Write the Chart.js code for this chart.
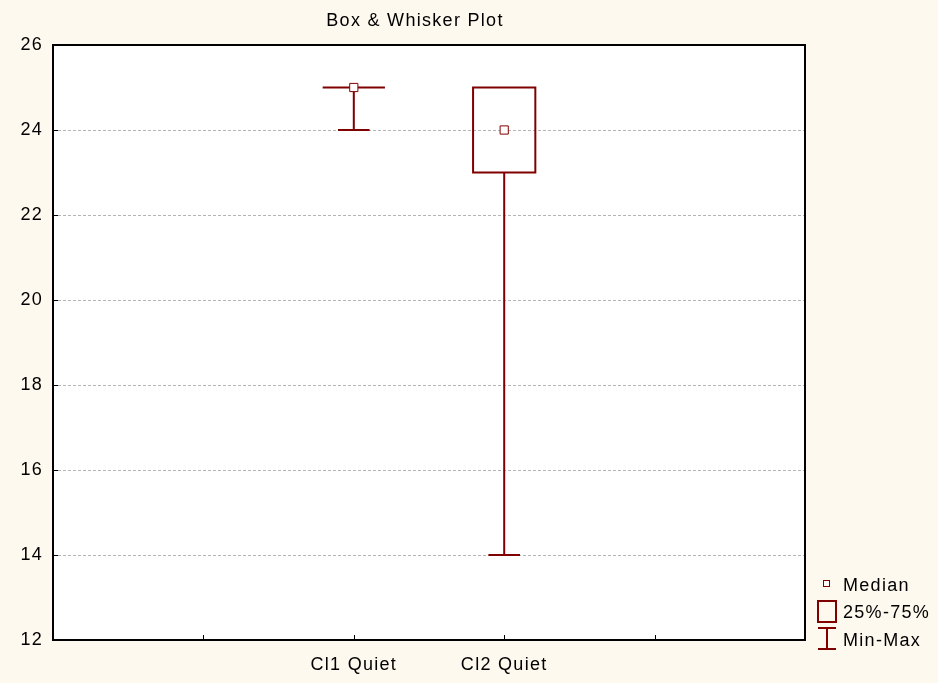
<!DOCTYPE html>
<html>
<head>
<meta charset="utf-8">
<script src="https://cdn.jsdelivr.net/npm/chart.js@4.4.1/dist/chart.umd.min.js"></script>
<style>
html, body { margin: 0; padding: 0; background: #fdf9ef; }
</style>
</head>
<body>
<canvas id="myChart" width="938" height="683"></canvas>
<script>
const categories = ['Cl1 Quiet', 'Cl2 Quiet'];
const medians = [25, 24];
const q1 = [25, 23];
const q3 = [25, 25];
const mins = [24, 14];
const maxs = [25, 25];
const yTicks = [12, 14, 16, 18, 20, 22, 24, 26];
const legendLabels = ['Median', '25%-75%', 'Min-Max'];

// x axis runs 0..5 with ticks at 1..4, categories sit on the 2nd and 3rd tick
const xPos = categories.map((c, i) => i + 2);

const RED = '#800000';
const FONT = '18px "Liberation Sans", Arial, sans-serif';
const SPACING = '1.3px';

const boxPlot = {
    id: 'boxPlot',
    beforeDraw(chart) {
        const { ctx, chartArea: a } = chart;
        ctx.save();
        ctx.fillStyle = '#fdf9ef';
        ctx.fillRect(0, 0, chart.width, chart.height);
        ctx.fillStyle = '#ffffff';
        ctx.fillRect(a.left, a.top, a.right - a.left, a.bottom - a.top);
        ctx.restore();
        ctx.letterSpacing = SPACING;
    },
    beforeDatasetsDraw(chart) {
        const { ctx, chartArea: a, scales: { x, y } } = chart;
        ctx.save();

        // frame and small inward ticks
        ctx.strokeStyle = '#000';
        ctx.lineWidth = 2;
        ctx.strokeRect(a.left, a.top, a.right - a.left, a.bottom - a.top);
        ctx.lineWidth = 1;
        ctx.beginPath();
        yTicks.forEach(v => {
            const py = Math.round(y.getPixelForValue(v)) + 0.5;
            ctx.moveTo(a.left, py);
            ctx.lineTo(a.left + 5, py);
        });
        [1, 2, 3, 4].forEach(v => {
            const px = Math.round(x.getPixelForValue(v)) + 0.5;
            ctx.moveTo(px, a.bottom);
            ctx.lineTo(px, a.bottom - 5);
        });
        ctx.stroke();

        // boxes and whiskers
        const unit = x.getPixelForValue(1) - x.getPixelForValue(0);
        const half = unit * 0.207;
        const cap = unit * 0.105;
        ctx.strokeStyle = RED;
        ctx.lineWidth = 2;
        xPos.forEach((p, i) => {
            const cx = x.getPixelForValue(p);
            const yq1 = y.getPixelForValue(q1[i]);
            const yq3 = y.getPixelForValue(q3[i]);
            const ymin = y.getPixelForValue(mins[i]);
            const ymax = y.getPixelForValue(maxs[i]);
            ctx.beginPath();
            ctx.rect(cx - half, yq3, half * 2, yq1 - yq3);
            ctx.moveTo(cx, yq1);
            ctx.lineTo(cx, ymin);
            ctx.moveTo(cx - cap, ymin);
            ctx.lineTo(cx + cap, ymin);
            ctx.moveTo(cx, yq3);
            ctx.lineTo(cx, ymax);
            ctx.moveTo(cx - cap, ymax);
            ctx.lineTo(cx + cap, ymax);
            ctx.stroke();
        });
        ctx.restore();
    },
    afterDraw(chart) {
        const { ctx, chartArea: a } = chart;
        ctx.save();
        ctx.font = FONT;
        ctx.letterSpacing = SPACING;
        ctx.fillStyle = '#000';
        ctx.textBaseline = 'alphabetic';
        ctx.textAlign = 'center';
        ctx.fillText('Box & Whisker Plot', 415, 26);

        // legend
        const lx = a.right + 13;
        const b = a.bottom;
        ctx.strokeStyle = RED;
        ctx.fillStyle = '#fff';
        ctx.lineWidth = 1;
        ctx.fillRect(lx + 5, b - 60, 7, 7);
        ctx.strokeRect(lx + 5.5, b - 59.5, 6, 6);
        ctx.lineWidth = 2;
        ctx.strokeRect(lx, b - 39, 18, 21);
        ctx.beginPath();
        ctx.moveTo(lx, b - 12); ctx.lineTo(lx + 18, b - 12);
        ctx.moveTo(lx + 9, b - 12); ctx.lineTo(lx + 9, b + 9);
        ctx.moveTo(lx, b + 9); ctx.lineTo(lx + 18, b + 9);
        ctx.stroke();
        ctx.fillStyle = '#000';
        ctx.textAlign = 'left';
        ctx.fillText(legendLabels[0], lx + 25, b - 49);
        ctx.fillText(legendLabels[1], lx + 25, b - 22);
        ctx.fillText(legendLabels[2], lx + 25, b + 6);
        ctx.restore();
    }
};

const tickFont = { family: '"Liberation Sans", Arial, sans-serif', size: 18 };

new Chart(document.getElementById('myChart'), {
    type: 'scatter',
    data: {
        datasets: [{
            label: 'Median',
            data: xPos.map((p, i) => ({ x: p, y: medians[i] })),
            pointStyle: 'rect',
            pointRadius: 5.8,
            pointHoverRadius: 5.8,
            pointBorderWidth: 1,
            borderColor: RED,
            backgroundColor: '#ffffff'
        }]
    },
    options: {
        responsive: false,
        animation: false,
        devicePixelRatio: 1,
        layout: { padding: { top: 45, right: 133, left: 0, bottom: 0 } },
        scales: {
            x: {
                type: 'linear',
                min: 0,
                max: 5,
                ticks: {
                    stepSize: 1,
                    autoSkip: false,
                    maxRotation: 0,
                    padding: 14,
                    color: '#000',
                    font: tickFont,
                    callback: v => categories[xPos.indexOf(v)] || ''
                },
                grid: { display: false, drawTicks: false },
                border: { display: false },
                afterFit(s) { s.height = 43; }
            },
            y: {
                min: 12,
                max: 26,
                ticks: { stepSize: 2, padding: 10, color: '#000', font: tickFont },
                grid: { color: '#b4b4b4', drawTicks: false, lineWidth: 1 },
                border: { display: false, dash: [3, 2] },
                afterFit(s) { s.width = 53; }
            }
        },
        plugins: {
            legend: { display: false },
            tooltip: { enabled: false }
        }
    },
    plugins: [boxPlot]
});
</script>
</body>
</html>
